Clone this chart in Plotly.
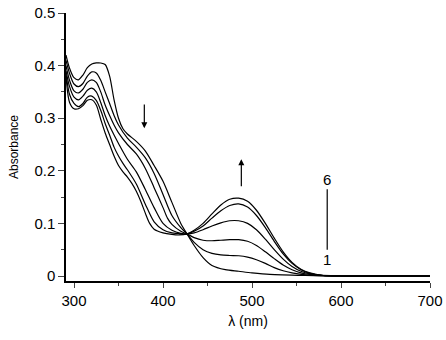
import plotly.graph_objects as go

wl1 = [291, 295, 300, 305, 310, 315, 320, 325, 330, 335, 340, 345, 350, 355, 360, 370, 380, 390, 400, 410, 420, 427, 435, 445, 455, 470, 485, 500, 520, 560, 600, 650, 700]
a1 = [0.42, 0.395, 0.377, 0.373, 0.382, 0.396, 0.403, 0.405, 0.405, 0.402, 0.38, 0.335, 0.30, 0.28, 0.27, 0.256, 0.238, 0.21, 0.18, 0.14, 0.10, 0.08, 0.058, 0.035, 0.02, 0.012, 0.009, 0.006, 0.003, 0.001, 0.0, 0.0, 0.0]

wl2 = [291, 295, 300, 305, 310, 315, 320, 325, 330, 335, 340, 345, 350, 360, 370, 380, 390, 400, 410, 420, 427, 435, 445, 455, 465, 475, 485, 495, 505, 515, 525, 535, 545, 560, 600, 650, 700]
a2 = [0.41, 0.385, 0.365, 0.36, 0.366, 0.38, 0.388, 0.386, 0.372, 0.35, 0.328, 0.305, 0.287, 0.262, 0.245, 0.225, 0.195, 0.155, 0.115, 0.092, 0.08, 0.064, 0.05, 0.043, 0.04, 0.039, 0.0385, 0.036, 0.031, 0.024, 0.016, 0.01, 0.006, 0.002, 0.0, 0.0, 0.0]

wl3 = [291, 295, 300, 305, 310, 315, 320, 325, 330, 335, 340, 345, 350, 360, 370, 380, 390, 400, 405, 410, 420, 427, 435, 445, 455, 465, 475, 485, 495, 505, 515, 525, 535, 545, 555, 565, 600, 650, 700]
a3 = [0.40, 0.372, 0.352, 0.348, 0.355, 0.368, 0.373, 0.368, 0.35, 0.325, 0.305, 0.287, 0.272, 0.25, 0.232, 0.205, 0.168, 0.13, 0.11, 0.098, 0.085, 0.08, 0.073, 0.068, 0.067, 0.068, 0.069, 0.069, 0.066, 0.058, 0.046, 0.033, 0.021, 0.012, 0.006, 0.003, 0.0, 0.0, 0.0]

wl4 = [291, 295, 300, 305, 310, 315, 320, 325, 330, 335, 340, 345, 350, 360, 370, 380, 390, 400, 410, 420, 427, 435, 445, 455, 465, 475, 485, 495, 505, 515, 525, 535, 545, 555, 565, 580, 600, 650, 700]
a4 = [0.39, 0.36, 0.34, 0.335, 0.342, 0.353, 0.357, 0.35, 0.33, 0.305, 0.285, 0.268, 0.252, 0.222, 0.198, 0.165, 0.13, 0.1, 0.087, 0.081, 0.08, 0.082, 0.088, 0.095, 0.101, 0.105, 0.105, 0.1, 0.088, 0.07, 0.05, 0.032, 0.018, 0.009, 0.004, 0.001, 0.0, 0.0, 0.0]

wl5 = [291, 295, 300, 305, 310, 315, 320, 325, 330, 335, 340, 345, 350, 355, 360, 370, 380, 390, 400, 410, 420, 427, 435, 445, 455, 465, 475, 485, 495, 505, 515, 525, 535, 545, 555, 565, 580, 600, 650, 700]
a5 = [0.385, 0.345, 0.328, 0.322, 0.328, 0.34, 0.342, 0.334, 0.315, 0.29, 0.268, 0.245, 0.228, 0.214, 0.202, 0.175, 0.137, 0.103, 0.088, 0.082, 0.08, 0.08, 0.085, 0.095, 0.11, 0.124, 0.134, 0.137, 0.131, 0.115, 0.092, 0.066, 0.042, 0.024, 0.012, 0.005, 0.001, 0.0, 0.0, 0.0]

wl6 = [291, 295, 300, 305, 310, 315, 320, 325, 330, 335, 340, 345, 350, 355, 360, 365, 370, 375, 380, 385, 390, 400, 410, 418, 427, 435, 445, 455, 465, 475, 485, 495, 505, 515, 525, 535, 545, 555, 565, 580, 600, 650, 700]
a6 = [0.38, 0.33, 0.318, 0.318, 0.324, 0.334, 0.335, 0.325, 0.298, 0.272, 0.25, 0.228, 0.21, 0.198, 0.188, 0.176, 0.161, 0.142, 0.12, 0.1, 0.089, 0.082, 0.079, 0.078, 0.08, 0.087, 0.1, 0.118, 0.135, 0.146, 0.148, 0.142, 0.125, 0.1, 0.072, 0.046, 0.026, 0.013, 0.006, 0.001, 0.0, 0.0, 0.0]

series = [(wl1, a1), (wl2, a2), (wl3, a3), (wl4, a4), (wl5, a5), (wl6, a6)]

x_ticks = [300, 400, 500, 600, 700]
y_ticks = [0, 0.1, 0.2, 0.3, 0.4, 0.5]
y_labels = ["0", "0.1", "0.2", "0.3", "0.4", "0.5"]

fig = go.Figure()
for wl, a in series:
    fig.add_trace(go.Scatter(x=wl, y=a, mode="lines",
                             line=dict(color="black", width=1.2, shape="spline", smoothing=0.8),
                             showlegend=False, hoverinfo="skip"))

# arrows
fig.add_annotation(x=379, y=0.281, ax=379, ay=0.329, xref="x", yref="y", axref="x", ayref="y",
                   showarrow=True, arrowhead=2, arrowsize=1, arrowwidth=1.2, arrowcolor="black", text="")
fig.add_annotation(x=488, y=0.222, ax=488, ay=0.168, xref="x", yref="y", axref="x", ayref="y",
                   showarrow=True, arrowhead=2, arrowsize=1, arrowwidth=1.2, arrowcolor="black", text="")
# 1-6 bar
fig.add_shape(type="line", x0=584.5, x1=584.5, y0=0.05, y1=0.165, line=dict(color="black", width=1.2))
fig.add_annotation(x=584.5, y=0.183, text="6", showarrow=False, font=dict(size=15, color="black"))
fig.add_annotation(x=584.5, y=0.031, text="1", showarrow=False, font=dict(size=15, color="black"))

font = "Liberation Sans, Arial, sans-serif"
fig.update_layout(
    width=446, height=340,
    margin=dict(l=66, r=16, t=13, b=59),
    paper_bgcolor="white", plot_bgcolor="white",
    font=dict(family=font, color="black", size=15),
    xaxis=dict(range=[291, 700], tickvals=x_ticks, ticks="outside", ticklen=5, tickwidth=1.2,
               showline=True, linecolor="black", linewidth=1.5, showgrid=False, zeroline=False, automargin=False,
               ticklabeloverflow="allow",
               tickfont=dict(size=15), minor=dict(dtick=50, tick0=300, ticks="outside", ticklen=3, tickwidth=1.2),
               title=dict(text="λ (nm)", font=dict(size=14), standoff=8)),
    yaxis=dict(range=[-0.0095, 0.5], tickvals=y_ticks, ticktext=y_labels, ticks="outside", ticklen=6, tickwidth=1.2,
               showline=True, linecolor="black", linewidth=1.5, showgrid=False, zeroline=False, automargin=False,
               ticklabeloverflow="allow",
               tickfont=dict(size=15), minor=dict(dtick=0.05, tick0=0, ticks="outside", ticklen=3, tickwidth=1.2),
               title=dict(text="Absorbance", font=dict(size=12), standoff=13)),
)

fig.write_html("out.html", config={"displayModeBar": False},
               post_script="document.body.style.margin='0px';document.body.style.overflow='hidden';")
